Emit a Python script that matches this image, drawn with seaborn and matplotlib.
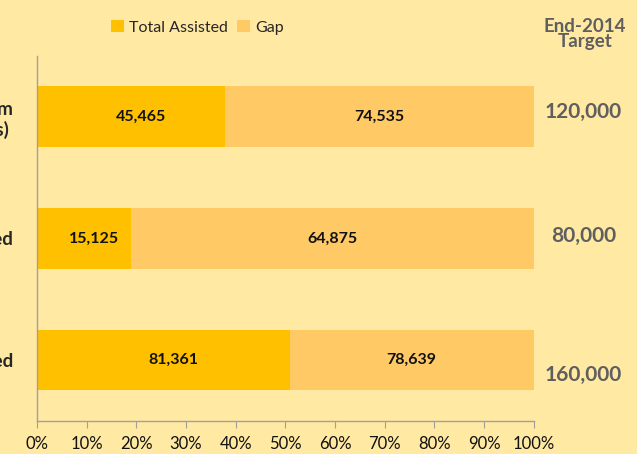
import matplotlib
matplotlib.use("Agg")
import matplotlib.pyplot as plt
from matplotlib.patches import Patch
import pandas as pd
import seaborn as sns

# %%
# values (row labels are cut off at the left edge)
categories = ["Food Assistance Program\n(Individuals) ", "Households Reached", "Individuals Assisted"]
assisted = [45465, 15125, 81361]
gap = [74535, 64875, 78639]
target = [120000, 80000, 160000]
x_ticks = [0, 10, 20, 30, 40, 50, 60, 70, 80, 90, 100]

df = pd.DataFrame({"category": categories, "assisted": assisted, "gap": gap, "target": target})
df["assisted_pct"] = df["assisted"] / df["target"] * 100
df["total_pct"] = (df["assisted"] + df["gap"]) / df["target"] * 100

# %%
c_assisted = "#FFC000"
c_gap = "#FFC966"
bg = "#FFE9A3"
grey = "#5F5F5F"

sns.set_style("ticks")
plt.rcParams["font.family"] = ["Lato", "DejaVu Sans"]

fig = plt.figure(figsize=(6.37, 4.54), dpi=100, facecolor=bg)
ax = fig.add_axes([0.058, 0.073, 0.78, 0.804])
ax.set_facecolor(bg)

sns.barplot(data=df, y="category", x="total_pct", orient="h", color=c_gap,
            saturation=1, width=0.5, linewidth=0, ax=ax)
sns.barplot(data=df, y="category", x="assisted_pct", orient="h", color=c_assisted,
            saturation=1, width=0.5, linewidth=0, ax=ax)

ax.set_xlim(0, 100)
ax.set_ylim(2.5, -0.5)
ax.set_xticks(x_ticks)
ax.set_xticklabels([f"{t}%" for t in x_ticks], fontsize=12, color="#111111")
ax.set_xlabel("")
ax.set_ylabel("")
ax.tick_params(axis="x", length=5, width=0.8, color="#A0A0A0", pad=6)
ax.tick_params(axis="y", length=0, pad=17)
for lab in ax.get_yticklabels():
    lab.set_fontsize(13.5)
    lab.set_fontweight("bold")
    lab.set_horizontalalignment("right")
    lab.set_multialignment("right")
for s in ["top", "right"]:
    ax.spines[s].set_visible(False)
for s in ["left", "bottom"]:
    ax.spines[s].set_color("#A0A0A0")
    ax.spines[s].set_linewidth(1)

# value labels inside segments
for i, row in df.iterrows():
    ax.annotate(f"{row['assisted']:,}", (row["assisted_pct"] / 2, i), xytext=(7, 0),
                textcoords="offset points", ha="center", va="center",
                fontsize=11.5, fontweight="bold", color="#111111")
    ax.annotate(f"{row['gap']:,}", ((row["assisted_pct"] + row["total_pct"]) / 2, i),
                ha="center", va="center", fontsize=11.5, fontweight="bold", color="#111111")

# target column on the right
target_dy = [-0.04, -0.02, 0.12]
for i, t in enumerate(target):
    ax.text(110, i + target_dy[i], f"{t:,}", ha="center", va="center",
            fontsize=15, fontweight="bold", color=grey, clip_on=False)
fig.text(0.918, 0.925, "End-2014\nTarget", ha="center", va="center",
         fontsize=13.5, fontweight="bold", color=grey, linespacing=0.85)

handles = [Patch(facecolor=c_assisted, edgecolor="none", label="Total Assisted"),
           Patch(facecolor=c_gap, edgecolor="none", label="Gap")]
fig.legend(handles=handles, loc="center", bbox_to_anchor=(0.31, 0.94), ncol=2,
           frameon=False, fontsize=11.5, handlelength=0.8, handleheight=0.8,
           handletextpad=0.3, columnspacing=0.6)

fig.savefig("out.png", dpi=100, facecolor=bg)
